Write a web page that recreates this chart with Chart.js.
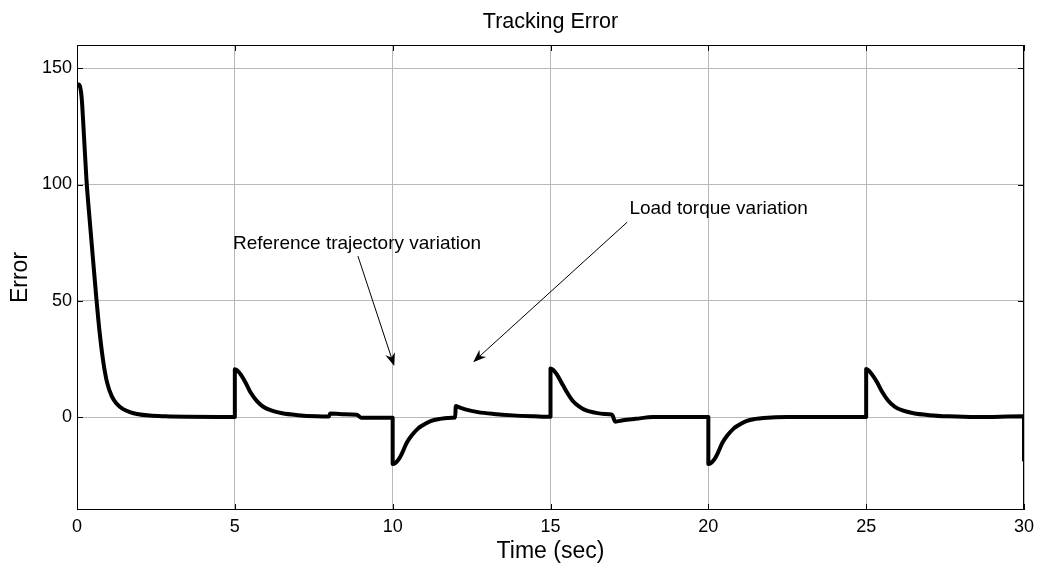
<!DOCTYPE html>
<html>
<head>
<meta charset="utf-8">
<title>Tracking Error</title>
<script src="https://cdn.jsdelivr.net/npm/chart.js@4.4.1/dist/chart.umd.min.js"></script>
<style>
  html, body { margin: 0; padding: 0; background: #fff; }
  #wrap { width: 1038px; height: 569px; position: relative; }
</style>
</head>
<body>
<div id="wrap"><canvas id="errChart"></canvas></div>
<script>
/******************** DATA ******************/
const timeValues = [
  0, 0.05, 0.1, 0.15, 0.2, 0.3, 0.4, 0.5, 0.62, 0.72, 0.83, 0.95, 1.1, 1.25, 1.46, 1.7, 1.9, 2.3, 2.8, 3.5, 4.5, 5,
  5, 5.08, 5.2, 5.35, 5.5, 5.7, 5.9, 6.15, 6.5, 7.0, 7.6, 7.98, 8.02, 8.4, 8.86, 9.0, 10,
  10, 10.08, 10.2, 10.3, 10.45, 10.6, 10.8, 10.9, 11.2, 11.5, 11.75, 11.98,
  12.0, 12.1, 12.3, 12.7, 13.2, 13.8, 14.5, 15,
  15, 15.08, 15.2, 15.4, 15.55, 15.7, 15.9, 16.15, 16.4, 16.7, 16.95, 17.05, 17.3, 17.7, 18.25, 20,
  20, 20.08, 20.2, 20.3, 20.45, 20.6, 20.8, 20.9, 21.2, 21.5, 21.75, 22.5, 25,
  25, 25.08, 25.2, 25.35, 25.5, 25.7, 25.9, 26.15, 26.5, 27.0, 27.6, 28.5, 30, 30
];
const errorValues = [
  142, 143, 142, 137, 126, 102, 85, 69, 50, 36, 24, 15, 9, 5.8, 3.4, 2, 1.3, 0.6, 0.3, 0.1, 0, 0,
  20.5, 20, 18, 14.5, 10.5, 6.8, 4.4, 2.8, 1.6, 0.8, 0.3, 0.2, 1.5, 1.2, 1.0, -0.3, -0.3,
  -20.2, -19.8, -18, -15.5, -11, -8, -5, -4, -1.8, -0.8, -0.4, -0.2,
  4.7, 4.2, 3.3, 2.1, 1.3, 0.7, 0.3, 0.1,
  20.9, 20.3, 18.3, 13.5, 10, 7, 4.6, 2.7, 1.9, 1.3, 1.0, -2, -1.4, -0.8, 0, 0,
  -20.2, -19.8, -18, -15.5, -11, -8, -5, -4, -1.8, -0.8, -0.4, 0, 0,
  20.6, 20, 18, 14.8, 11, 7, 4.5, 2.8, 1.6, 0.8, 0.3, 0, 0.3, -19
];

const xTicks = [0, 5, 10, 15, 20, 25, 30];
const yTicks = [0, 50, 100, 150];

const chartTitle = 'Tracking Error';

// annotation text (left edge, vertical centre) and arrows, in data units
const noteTexts = ['Reference trajectory variation', 'Load torque variation'];
const notePos = [[4.94, 74.3], [17.5, 89.4]];
const arrowTails = [[8.9, 69.2], [17.43, 83.8]];
const arrowHeads = [[10.05, 21.9], [12.55, 23.6]];

const FONT = "'Liberation Sans', Arial, Helvetica, sans-serif";

/******************** PLUGINS ******************/
const matlabAxes = {
  id: 'matlabAxes',
  afterDatasetsDraw(chart) {
    const { ctx, chartArea: a, scales } = chart;
    const xs = scales.x, ys = scales.y;
    ctx.save();

    // title, centred over the axes box
    ctx.fillStyle = '#000';
    ctx.font = '21.5px ' + FONT;
    ctx.textAlign = 'center';
    ctx.textBaseline = 'middle';
    ctx.fillText(chartTitle, (a.left + a.right) / 2, 22);

    // box
    ctx.strokeStyle = '#000';
    ctx.lineWidth = 1;
    ctx.strokeRect(a.left + 0.5, a.top + 0.5, a.right - a.left - 1, a.bottom - a.top - 1);

    // inward tick marks
    const tl = 6;
    ctx.beginPath();
    xTicks.forEach(v => {
      const px = Math.round(xs.getPixelForValue(v)) + 0.5;
      ctx.moveTo(px, a.bottom); ctx.lineTo(px, a.bottom - tl);
      ctx.moveTo(px, a.top); ctx.lineTo(px, a.top + tl);
    });
    yTicks.forEach(v => {
      const py = Math.round(ys.getPixelForValue(v)) + 0.5;
      ctx.moveTo(a.left, py); ctx.lineTo(a.left + tl, py);
      ctx.moveTo(a.right, py); ctx.lineTo(a.right - tl, py);
    });
    ctx.stroke();

    // annotations
    ctx.font = '19px ' + FONT;
    ctx.textAlign = 'left';
    noteTexts.forEach((txt, i) => {
      ctx.fillText(txt, xs.getPixelForValue(notePos[i][0]), ys.getPixelForValue(notePos[i][1]));
    });

    arrowTails.forEach((tail, i) => {
      const x0 = xs.getPixelForValue(tail[0]), y0 = ys.getPixelForValue(tail[1]);
      const x1 = xs.getPixelForValue(arrowHeads[i][0]), y1 = ys.getPixelForValue(arrowHeads[i][1]);
      const ang = Math.atan2(y1 - y0, x1 - x0);
      const c = Math.cos(ang), s = Math.sin(ang);
      const len = 13, half = 5;
      const bx = x1 - len * c, by = y1 - len * s;

      ctx.beginPath();
      ctx.lineWidth = 1;
      ctx.moveTo(x0, y0);
      ctx.lineTo(x1 - 6 * c, y1 - 6 * s);
      ctx.stroke();

      ctx.beginPath();
      ctx.moveTo(x1, y1);
      ctx.lineTo(bx - s * half, by + c * half);
      ctx.lineTo(x1 - 9 * c, y1 - 9 * s);
      ctx.lineTo(bx + s * half, by - c * half);
      ctx.closePath();
      ctx.fill();
    });

    ctx.restore();
  }
};

/******************** CHART ******************/
const points = timeValues.map((t, i) => ({ x: t, y: errorValues[i] }));

new Chart(document.getElementById('errChart'), {
  type: 'line',
  data: {
    datasets: [{
      label: 'Error',
      data: points,
      borderColor: '#000',
      borderWidth: 4,
      pointRadius: 0,
      cubicInterpolationMode: 'monotone',
      fill: false,
      borderJoinStyle: 'round',
      borderCapStyle: 'butt'
    }]
  },
  options: {
    responsive: true,
    maintainAspectRatio: false,
    animation: false,
    layout: { padding: { left: 0, right: 14, top: 45, bottom: 0 } },
    plugins: {
      legend: { display: false },
      tooltip: { enabled: false },
      title: { display: false }
    },
    scales: {
      x: {
        type: 'linear',
        min: 0,
        max: 30,
        afterBuildTicks: s => { s.ticks = xTicks.map(v => ({ value: v })); },
        afterFit: s => { s.height = 59; s.paddingLeft = 0; s.paddingRight = 0; },
        grid: { color: '#b8b8b8', lineWidth: 1, drawTicks: false },
        border: { display: false },
        ticks: { color: '#000', padding: 6, maxRotation: 0, font: { family: FONT, size: 18 } },
        title: {
          display: true,
          text: 'Time (sec)',
          color: '#000',
          font: { family: FONT, size: 23, lineHeight: 1.2 },
          padding: { top: 0, bottom: 4 }
        }
      },
      y: {
        type: 'linear',
        min: -40,
        max: 160,
        afterBuildTicks: s => { s.ticks = yTicks.map(v => ({ value: v })); },
        afterFit: s => { s.width = 77; s.paddingTop = 0; s.paddingBottom = 0; },
        grid: { color: '#b8b8b8', lineWidth: 1, drawTicks: false },
        border: { display: false },
        ticks: { color: '#000', padding: 5, font: { family: FONT, size: 18 } },
        title: {
          display: true,
          text: 'Error',
          color: '#000',
          font: { family: FONT, size: 23, lineHeight: 1.2 },
          padding: { top: 7, bottom: 0 }
        }
      }
    }
  },
  plugins: [matlabAxes]
});
</script>
</body>
</html>
